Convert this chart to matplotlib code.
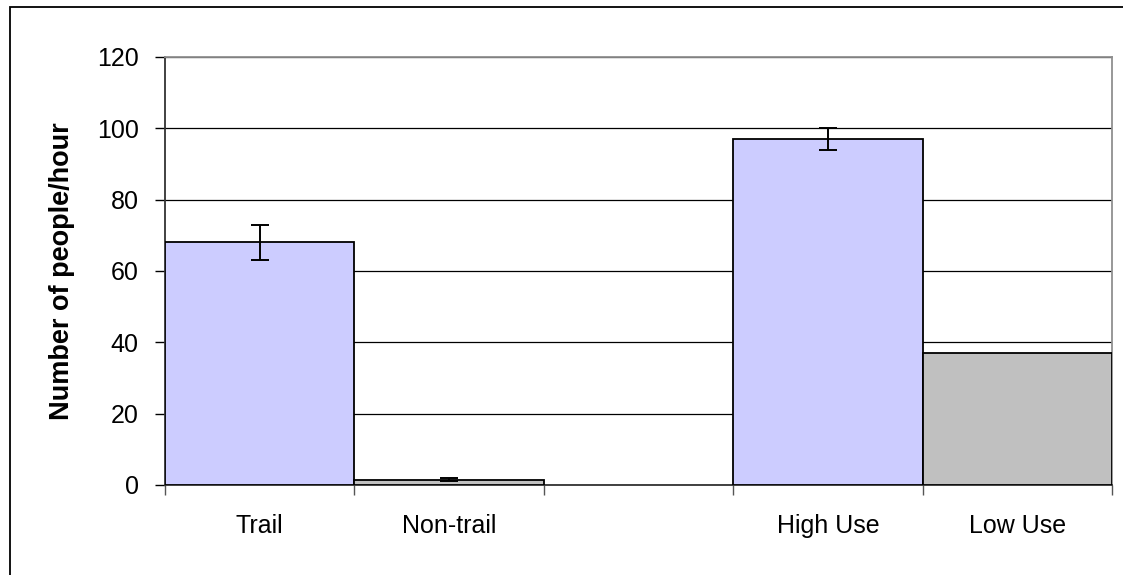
import matplotlib
matplotlib.use("Agg")
import matplotlib.pyplot as plt
from matplotlib.patches import Rectangle

# data
categories = ["Trail", "Non-trail", "", "High Use", "Low Use"]
values = [68, 1.5, 0, 97, 37]
errors = [5, 0.5, 0, 3.2, 0]
bar_colors = ["#CCCCFF", "#C0C0C0", "none", "#CCCCFF", "#C0C0C0"]
yticks = [0, 20, 40, 60, 80, 100, 120]

plt.rcParams['font.family'] = ['Liberation Sans', 'DejaVu Sans']

fig = plt.figure(figsize=(11.23, 5.75), dpi=100)
ax = fig.add_axes([165 / 1123, 90 / 575, 947 / 1123, 428 / 575])

# outer chart border (only top and left visible in the reference)
fig.add_artist(Rectangle((10 / 1123, -0.1), 1.5, (575 - 7) / 575 + 0.1,
                         transform=fig.transFigure, fill=False,
                         edgecolor="black", linewidth=1.3, zorder=0))

x = list(range(len(categories)))
for i in x:
    if values[i] == 0:
        continue
    ax.bar(i, values[i], width=1.0, color=bar_colors[i], edgecolor="black",
           linewidth=1.3, zorder=3)
    if errors[i] > 0:
        ax.errorbar(i, values[i], yerr=errors[i], fmt="none", ecolor="black",
                    elinewidth=1.4, capsize=6.5, capthick=1.4, zorder=4)

ax.set_xlim(-0.5, len(categories) - 0.5)
ax.set_ylim(0, 120)
ax.set_yticks(yticks)
ax.set_yticklabels([str(t) for t in yticks], fontsize=18)
ax.yaxis.grid(True, color="black", linewidth=0.9, zorder=0)

# ticks at slot boundaries, labels at slot centers
ax.set_xticks([i - 0.5 for i in range(len(categories) + 1)])
ax.set_xticklabels([])
ax.set_xticks(x, minor=True)
ax.set_xticklabels(categories, minor=True, fontsize=18)
ax.tick_params(axis="x", which="major", length=7, color="#555555", width=1)
ax.tick_params(axis="x", which="minor", length=0, pad=21)
ax.tick_params(axis="y", length=7, width=1, pad=12, color="black")

ax.spines["left"].set_color("#333333")
ax.spines["bottom"].set_color("#333333")
ax.spines["top"].set_color("#909090")
ax.spines["right"].set_color("#909090")
for s in ax.spines.values():
    s.set_linewidth(1.3)

ax.set_ylabel("Number of people/hour", fontsize=19.5, fontweight="bold", labelpad=16)

fig.savefig("out.png", dpi=100)
